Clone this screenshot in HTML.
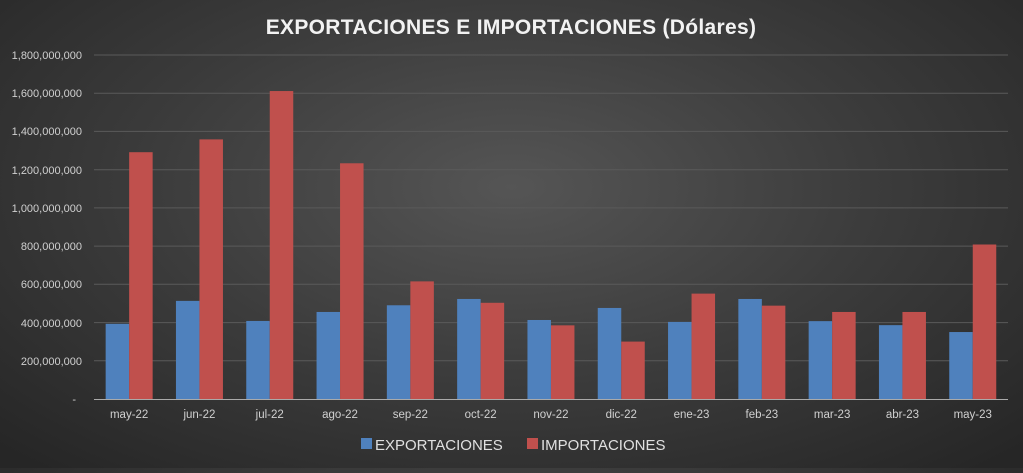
<!DOCTYPE html>
<html><head><meta charset="utf-8"><style>
html,body{margin:0;padding:0}
body{width:1023px;height:468px;overflow:hidden;background:radial-gradient(ellipse 70% 80% at 50% 40%,#555 0%,#3c3c3c 50%,#262626 100%);font-family:"Liberation Sans",sans-serif}
</style></head><body>
<svg width="1023" height="468" xmlns="http://www.w3.org/2000/svg" font-family="Liberation Sans, sans-serif">
<text x="511" y="34" text-anchor="middle" fill="#f2f2f2" font-size="21" font-weight="bold" letter-spacing="0.3">EXPORTACIONES E IMPORTACIONES (Dólares)</text>
<g stroke="#5a5a5a" stroke-width="1">
<line x1="94" x2="1008" y1="55" y2="55"/><line x1="94" x2="1008" y1="93.2" y2="93.2"/><line x1="94" x2="1008" y1="131.4" y2="131.4"/><line x1="94" x2="1008" y1="169.7" y2="169.7"/><line x1="94" x2="1008" y1="207.9" y2="207.9"/><line x1="94" x2="1008" y1="246.1" y2="246.1"/><line x1="94" x2="1008" y1="284.3" y2="284.3"/><line x1="94" x2="1008" y1="322.6" y2="322.6"/><line x1="94" x2="1008" y1="360.8" y2="360.8"/>
</g>
<g fill="#d0d0d0" font-size="11" text-anchor="end">
<text x="82" y="59">1,800,000,000</text><text x="82" y="97">1,600,000,000</text><text x="82" y="135">1,400,000,000</text><text x="82" y="174">1,200,000,000</text><text x="82" y="212">1,000,000,000</text><text x="82" y="250">800,000,000</text><text x="82" y="288">600,000,000</text><text x="82" y="327">400,000,000</text><text x="82" y="365">200,000,000</text><text x="76" y="403">-</text>
</g>
<g id="bars"></g>
<line x1="94" x2="1008" y1="399.5" y2="399.5" stroke="#aaa" stroke-width="1"/>
<g id="labels" fill="#d0d0d0" font-size="11.5" text-anchor="middle"></g>
<rect x="361" y="438" width="11" height="11" fill="#4f81bd"/>
<text x="375" y="450" fill="#e0e0e0" font-size="15">EXPORTACIONES</text>
<rect x="527" y="438" width="11" height="11" fill="#c0504d"/>
<text x="541" y="450" fill="#e0e0e0" font-size="15">IMPORTACIONES</text>
<script>
var cats=["may-22","jun-22","jul-22","ago-22","sep-22","oct-22","nov-22","dic-22","ene-23","feb-23","mar-23","abr-23","may-23"];
var ex=[395,515,410,457,492,525,415,478,405,525,409,388,352];
var im=[1293,1360,1613,1235,617,505,387,302,553,490,457,457,810];
var b=document.getElementById("bars"),l=document.getElementById("labels"),ns="http://www.w3.org/2000/svg";
var base=399.3,k=344/1800,w=70.3;
for(var i=0;i<13;i++){var c=94+w*(i+0.5);
[[ex[i],c-23.5,"#4f81bd"],[im[i],c,"#c0504d"]].forEach(function(d){var r=document.createElementNS(ns,"rect");var h=d[0]*k;r.setAttribute("x",d[1]);r.setAttribute("y",base-h);r.setAttribute("width",23.5);r.setAttribute("height",h);r.setAttribute("fill",d[2]);b.appendChild(r);});
var t=document.createElementNS(ns,"text");t.setAttribute("x",c);t.setAttribute("y",418);t.textContent=cats[i];l.appendChild(t);}
</script>
</svg>
</body></html>
